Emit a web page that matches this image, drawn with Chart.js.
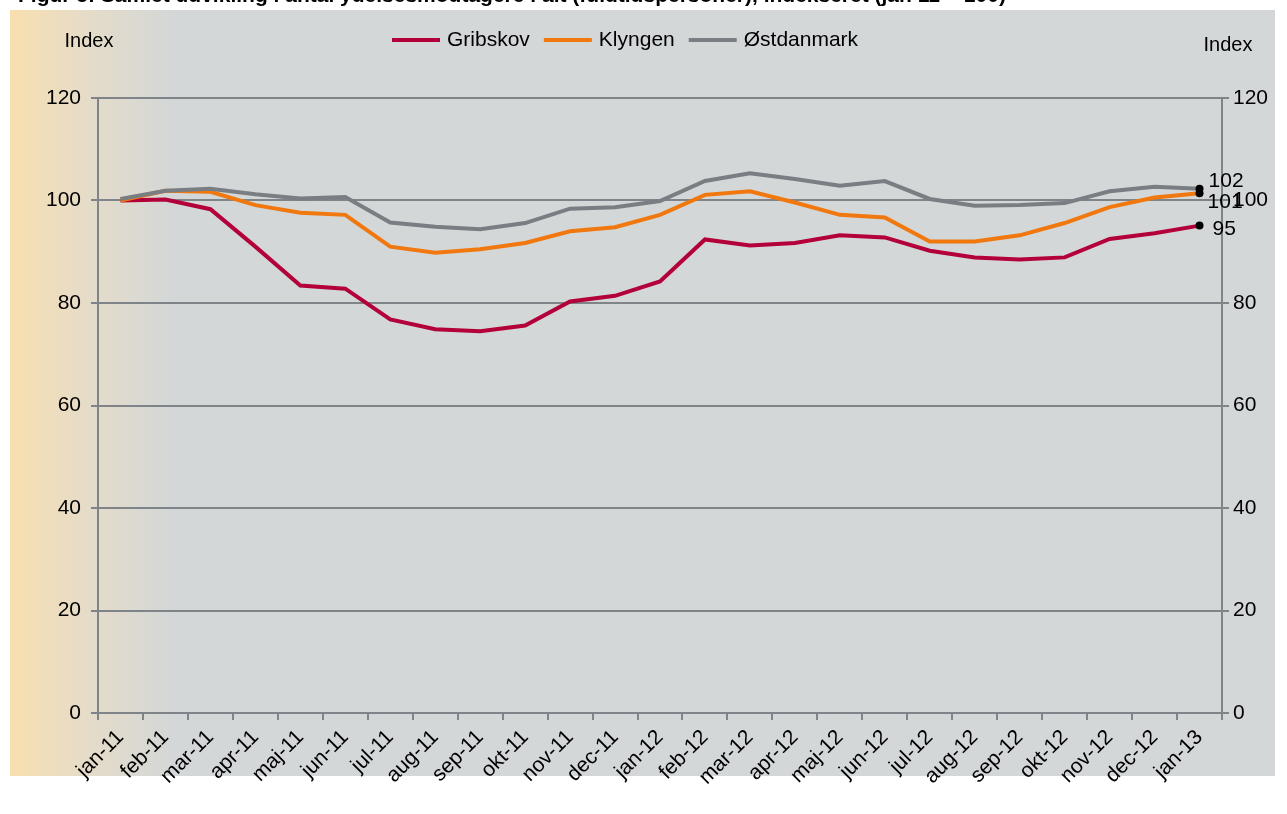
<!DOCTYPE html>
<html>
<head>
<meta charset="utf-8">
<style>
html,body{margin:0;padding:0;background:#fff;}
#wrap{width:1287px;height:814px;position:relative;overflow:hidden;}
canvas{display:block;}
</style>
<script src="https://cdn.jsdelivr.net/npm/chart.js@4"></script>
</head>
<body>
<div id="wrap"><canvas id="c" width="1287" height="814"></canvas></div>
<script>
const titleText = 'Figur 5: Samlet udvikling i antal ydelsesmodtagere i alt (fuldtidspersoner), indekseret (jan 11 = 100)';
const categories = ['jan-11','feb-11','mar-11','apr-11','maj-11','jun-11','jul-11','aug-11','sep-11','okt-11','nov-11','dec-11',
  'jan-12','feb-12','mar-12','apr-12','maj-12','jun-12','jul-12','aug-12','sep-12','okt-12','nov-12','dec-12','jan-13'];
const gribskov   = [100,100.2,98.3,91.0,83.4,82.8,76.8,74.9,74.5,75.6,80.3,81.4,84.2,92.4,91.2,91.7,93.2,92.8,90.2,88.9,88.5,88.9,92.5,93.6,95.1];
const klyngen    = [100,101.9,101.7,99.1,97.6,97.2,91.0,89.8,90.5,91.7,94.0,94.8,97.2,101.1,101.8,99.6,97.2,96.7,92.0,92.0,93.2,95.6,98.7,100.6,101.4];
const ostdanmark = [100.3,101.9,102.3,101.2,100.4,100.7,95.7,94.9,94.4,95.6,98.4,98.7,99.9,103.8,105.3,104.2,102.9,103.8,100.3,99.0,99.1,99.5,101.8,102.7,102.3];
const seriesNames = ['Gribskov','Klyngen','Østdanmark'];
const yTicks = [0,20,40,60,80,100,120];
const axisTitle = 'Index';

const FONT = '"Liberation Sans", Arial, sans-serif';
const COLORS = ['#B4003A','#F0780F','#787E82'];
const AXIS = '#7F8488';

const bgPlugin = {
  id: 'bg',
  beforeDraw(chart) {
    const c = chart.ctx;
    c.save();
    c.fillStyle = '#ffffff';
    c.fillRect(0, 0, chart.width, chart.height);
    const g = c.createLinearGradient(10, 0, 175, 0);
    g.addColorStop(0, '#F9DFAF');
    g.addColorStop(0.45, '#E6DCC8');
    g.addColorStop(1, '#D3D7D8');
    c.fillStyle = g;
    c.fillRect(10, 10, 1265, 766);
    // title, clipped at the top edge as in the source picture
    c.fillStyle = '#000';
    c.font = 'bold 21px ' + FONT;
    c.textBaseline = 'alphabetic';
    c.textAlign = 'left';
    c.fillText(titleText, 18, 2);
    c.restore();
  },
  afterDraw(chart) {
    const c = chart.ctx;
    c.save();
    c.fillStyle = '#000';
    c.font = '20px ' + FONT;
    c.textBaseline = 'middle';
    c.textAlign = 'center';
    c.fillText(axisTitle, 89, 41);
    c.fillText(axisTitle, 1228, 45);
    // legend
    c.font = '21px ' + FONT;
    c.textAlign = 'left';
    let x = 392;
    const y = 40;
    seriesNames.forEach((n, i) => {
      c.strokeStyle = COLORS[i];
      c.lineWidth = 4;
      c.beginPath();
      c.moveTo(x, y);
      c.lineTo(x + 48, y);
      c.stroke();
      x += 55;
      c.fillText(n, x, y);
      x += c.measureText(n).width + 14;
    });
    c.restore();
  }
};

const endLabelPlugin = {
  id: 'endLabels',
  afterDatasetsDraw(chart) {
    const c = chart.ctx;
    const offs = [[13, 4], [8, 9], [9, -8]];
    c.save();
    c.fillStyle = '#000';
    c.font = '21px ' + FONT;
    c.textBaseline = 'middle';
    c.textAlign = 'left';
    chart.data.datasets.forEach((ds, i) => {
      const meta = chart.getDatasetMeta(i);
      const last = meta.data[meta.data.length - 1];
      const v = ds.data[ds.data.length - 1];
      c.fillText(String(Math.round(v)), last.x + offs[i][0], last.y + offs[i][1]);
    });
    c.restore();
  }
};

function mk(label, data, i, order) {
  return {
    label, data,
    borderColor: COLORS[i],
    backgroundColor: COLORS[i],
    borderWidth: 4,
    tension: 0,
    fill: false,
    order,
    pointRadius: ctx => ctx.dataIndex === data.length - 1 ? 4 : 0,
    pointBackgroundColor: '#000',
    pointBorderColor: '#000',
    pointBorderWidth: 0,
    pointHoverRadius: 0
  };
}

const tickFont = { family: FONT, size: 21 };

new Chart(document.getElementById('c'), {
  type: 'line',
  data: {
    labels: categories,
    datasets: [
      mk(seriesNames[0], gribskov, 0, 3),
      mk(seriesNames[1], klyngen, 1, 2),
      mk(seriesNames[2], ostdanmark, 2, 1)
    ]
  },
  options: {
    responsive: false,
    animation: false,
    devicePixelRatio: 1,
    layout: { padding: { top: 98, left: 0, right: 0, bottom: 0 } },
    plugins: { legend: { display: false }, tooltip: { enabled: false }, title: { display: false } },
    scales: {
      x: {
        type: 'category',
        offset: true,
        grid: { display: true, drawOnChartArea: false, drawTicks: true, tickLength: 7, color: AXIS, lineWidth: 2, offset: true },
        border: { display: true, color: AXIS, width: 2 },
        ticks: { color: '#000', font: tickFont, maxRotation: 45, minRotation: 45, autoSkip: false, padding: 5 },
        afterFit: s => { s.height = 101; }
      },
      y: {
        position: 'left',
        min: 0, max: 120,
        afterBuildTicks: s => { s.ticks = yTicks.map(v => ({ value: v })); },
        ticks: { color: '#000', font: tickFont, padding: 10 },
        grid: { color: AXIS, lineWidth: 2, tickLength: 7, drawTicks: true },
        border: { color: AXIS, width: 2 },
        afterFit: s => { s.width = 98; }
      },
      y2: {
        position: 'right',
        min: 0, max: 120,
        afterBuildTicks: s => { s.ticks = yTicks.map(v => ({ value: v })); },
        ticks: { color: '#000', font: tickFont, padding: 4 },
        grid: { drawOnChartArea: false, color: AXIS, lineWidth: 2, tickLength: 7, drawTicks: true },
        border: { color: AXIS, width: 2 },
        afterFit: s => { s.width = 65; }
      }
    }
  },
  plugins: [bgPlugin, endLabelPlugin]
});
</script>
</body>
</html>
